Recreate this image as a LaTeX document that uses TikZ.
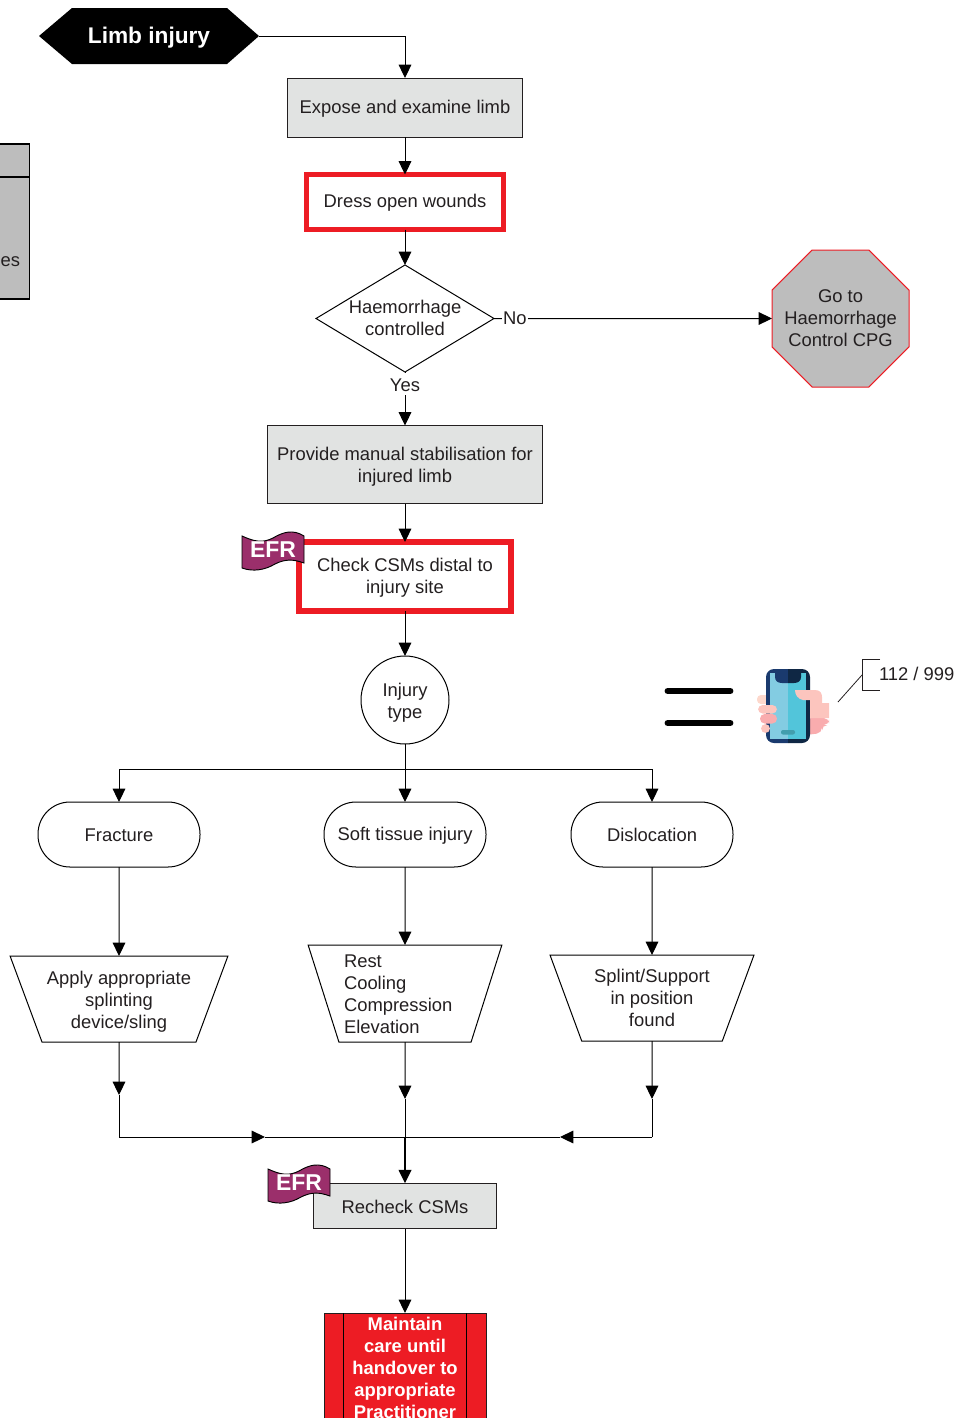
\documentclass[tikz,border=0pt]{standalone}
\usepackage{fontspec}
\setmainfont{Liberation Sans}
\usetikzlibrary{arrows.meta,shapes.geometric}
\definecolor{ink}{HTML}{231F20}
\definecolor{boxgray}{HTML}{E1E3E2}
\definecolor{midgray}{HTML}{BDBDBD}
\definecolor{redbox}{HTML}{ED1C24}
\definecolor{efrpurple}{HTML}{9B2F6B}
\definecolor{navyL}{HTML}{1A3A6E}
\definecolor{navyR}{HTML}{0F2744}
\definecolor{screenL}{HTML}{83CCE2}
\definecolor{screenR}{HTML}{52C5DA}
\definecolor{skinA}{HTML}{FCC5BE}
\definecolor{skinB}{HTML}{F9ACAE}
\definecolor{skinC}{HTML}{FDD8CC}
\newcommand{\pxu}{0.75pt}
\tikzset{
  x=0.75pt,y=-0.75pt,
  base/.style={font=\fontsize{13.8}{16.5}\selectfont,text=ink,align=center,inner sep=0pt,outer sep=0pt,
    execute at begin node={\rule{0pt}{11.5pt}},execute at end node={\rule[-0.9pt]{0pt}{0.9pt}}},
  toprule/.style={execute at begin node={\rule{0pt}{#1}}},
  lineblack/.style={draw=black,line width=0.75pt},
  arr/.style={lineblack,-{Triangle[length=10pt,width=9.5pt]}},
  graybox/.style={base,rectangle,draw=ink,line width=0.75pt,fill=boxgray},
  redframe/.style={base,rectangle,draw=redbox,fill=white},
  term/.style={base,rectangle,draw=black,line width=0.75pt,rounded corners=24pt,minimum height=65*\pxu,minimum width=162*\pxu},
  trap/.style={base,trapezium,draw=black,line width=0.75pt,shape border rotate=180,trapezium stretches=true,trapezium left angle=71,trapezium right angle=71},
  lab/.style={base,fill=white,inner xsep=1pt,inner ysep=2pt},
  efrtext/.style={font=\bfseries\fontsize{17.2}{19}\selectfont,text=white,inner sep=0pt},
  pics/efr/.style={code={
    \path[fill=efrpurple,draw=black,line width=0.7pt]
      (-31,-13) .. controls (-18,-7) and (-10,-6) .. (0,-11)
      .. controls (10,-17) and (20,-20) .. (31,-13)
      -- (31,14) .. controls (20,10) and (12,10) .. (2,15)
      .. controls (-8,21) and (-20,23) .. (-31,19) -- cycle;
    \node[efrtext] at (0,1) {EFR};
  }}
}
\begin{document}
\begin{tikzpicture}
\useasboundingbox (0,0) rectangle (960,1418);
\clip (0,0) rectangle (960,1418);

% left clipped box
\draw[fill=midgray,draw=black,line width=1pt] (-100,144) rectangle (29.5,299);
\draw[black,line width=1pt] (-100,177) -- (29.5,177);
\node[base,anchor=east] (leftes) at (20,259) {es};

% start
\path[fill=black] (39,36) -- (72,8) -- (227,8) -- (259,36) -- (227,64) -- (72,64) -- cycle;
\node[font=\bfseries\fontsize{17}{20}\selectfont,text=white,text height=12.5pt,text depth=1pt,minimum width=220*\pxu,minimum height=56*\pxu,inner sep=0pt,outer sep=0pt] (limb) at (149,36) {Limb injury};

% process
\node[graybox,minimum width=235*\pxu,minimum height=59*\pxu] (expose) at (405,107.5) {Expose and examine limb};
\node[redframe,line width=3.9pt,minimum width=197*\pxu,minimum height=55*\pxu] (dress) at (405,202) {Dress open wounds};
\node[base,diamond,draw=black,line width=0.75pt,minimum width=178*\pxu,minimum height=107*\pxu,aspect=1.66] (hem) at (405,318.5) {Haemorrhage\\controlled};
\node[base,regular polygon,regular polygon sides=8,draw=redbox,line width=0.75pt,fill=midgray,minimum size=148.3*\pxu] (cpg) at (840.5,318.5) {};
\node[base] (cpgtext) at (840.5,318.5) {Go to\\Haemorrhage\\Control CPG};
\node[graybox,minimum width=275*\pxu,minimum height=78*\pxu] (provide) at (405,464.5) {\rule{0pt}{13pt}Provide manual stabilisation for\\injured limb};
\node[redframe,line width=4.5pt,minimum width=212*\pxu,minimum height=69*\pxu] (check) at (405,576.5) {\rule{0pt}{11.5pt}Check CSMs distal to\\injury site};
\node[base,circle,draw=black,line width=0.75pt,minimum size=88*\pxu] (injury) at (405,700) {\rule{0pt}{14.5pt}Injury\\type};

\node[term] (fracture) at (119,834.5) {Fracture};
\node[term] (soft) at (405,834.5) {Soft tissue injury};
\node[term] (disl) at (652,834.5) {Dislocation};

\node[trap,minimum width=218*\pxu,minimum height=86*\pxu,trapezium left angle=66,trapezium right angle=66] (apply) at (119,999) {\rule{0pt}{14.5pt}Apply appropriate\\splinting\\device/sling};
\node[trap,minimum width=194*\pxu,minimum height=97*\pxu,text width=122*\pxu,align=left] (rest) at (405,993.5) {Rest\\Cooling\\Compression\\Elevation};
\node[trap,minimum width=204*\pxu,minimum height=86*\pxu,trapezium left angle=66,trapezium right angle=66] (splint) at (652,998) {Splint/Support\\in position\\found};

\node[graybox,toprule=10.4pt,minimum width=183*\pxu,minimum height=45.5*\pxu] (recheck) at (405,1206) {Recheck CSMs};

% final red box, running off the page
\node[base,rectangle,draw=ink,line width=0.75pt,fill=redbox,minimum width=162*\pxu,minimum height=147*\pxu,anchor=north] (maintain) at (405,1313) {};
\draw[black,line width=0.75pt] (343,1313) -- (343,1460);
\draw[black,line width=0.75pt] (466,1313) -- (466,1460);
\node[base,anchor=north,text=white,font=\bfseries\fontsize{13.8}{16.5}\selectfont] (maintaintext) at (405,1317) {Maintain\\care until\\handover to\\appropriate\\Practitioner};

% connectors
\coordinate (mL) at (119,1095);
\coordinate (mC) at (405,1099);
\coordinate (mR) at (652,1099);
\coordinate (cL) at (119,1137);
\coordinate (cR) at (652,1137);
\coordinate (hL) at (265,1137);
\coordinate (hR) at (560,1137);
\coordinate (split) at (405,769);
\coordinate (mid) at (405,1137);

\draw[arr] (limb.east) -| (expose.north);
\draw[arr] (expose.south) -- (dress.north);
\draw[arr] (dress.south) -- (hem.north);
\draw[arr] (hem.east) -- node[lab,pos=0.075,yshift=1pt] (no) {No} (cpg.west);
\draw[arr] (hem.south) -- node[lab,pos=0.226] (yes) {Yes} (provide.north);
\draw[arr] (provide.south) -- (check.north);
\draw[arr] (check.south) -- (injury.north);
\draw[arr] (injury.south) -- (soft.north);
\draw[arr] (split) -| (fracture.north);
\draw[arr] (split) -| (disl.north);
\draw[arr] (fracture.south) -- (apply.north);
\draw[arr] (soft.south) -- (rest.north);
\draw[arr] (disl.south) -- (splint.north);
\draw[arr] (apply.south) -- (mL);
\draw[arr] (rest.south) -- (mC);
\draw[arr] (splint.south) -- (mR);
\draw[lineblack] (mL) -- (cL);
\draw[arr] (cL) -- (hL);
\draw[lineblack] (mR) -- (cR);
\draw[arr] (cR) -- (hR);
\draw[lineblack] (hL) -- (hR);
\draw[lineblack] (mC) -- (mid);
\draw[arr,line width=1.1pt] (mid) -- (recheck.north);
\draw[arr] (recheck.south) -- (maintain.north);

% EFR flags
\pic at (273,549) {efr};
\pic at (299,1182) {efr};

% equals
\draw[black,line width=5.2pt,line cap=round] (668,691) -- (730,691);
\draw[black,line width=5.2pt,line cap=round] (668,723) -- (730,723);

% phone: hand behind
\fill[skinC,rounded corners=3pt] (757,695) rectangle (770,704);
\fill[skinB,rounded corners=4pt] (806,718) -- (829,718) -- (829,725) -- (822,725) -- (822,733) -- (806,735) -- cycle;
% phone body
\begin{scope}
  \clip (760,660) rectangle (788,750);
  \fill[navyL,rounded corners=6pt] (766,669) rectangle (810,743);
\end{scope}
\begin{scope}
  \clip (788,660) rectangle (815,750);
  \fill[navyR,rounded corners=6pt] (766,669) rectangle (810,743);
\end{scope}
\fill[screenL] (770,673) rectangle (788,739);
\fill[screenR] (788,673) rectangle (806,739);
\fill[navyL] (775,672) -- (775,677) .. controls (775,681) and (778,683) .. (782,683) -- (788,683) -- (788,672) -- cycle;
\fill[navyR] (801,672) -- (801,677) .. controls (801,681) and (798,683) .. (794,683) -- (788,683) -- (788,672) -- cycle;
\fill[screenR!80!black,rounded corners=1.5pt] (781,730) rectangle (795,734.5);
% hand front
\fill[skinA] (795,690) -- (815,690) .. controls (820,690) and (822,693) .. (822,697) -- (822,703) -- (829,703) -- (829,718) -- (810,718) -- (810,700) -- (803,700) .. controls (798,699) and (795,695) .. (795,690) -- cycle;
\fill[skinA,rounded corners=3.5pt] (758,705) rectangle (777,713.5);
\fill[skinB,rounded corners=3.5pt] (760,714) rectangle (777,723.5);
\fill[skinA,rounded corners=3.5pt] (761,724) rectangle (770,733);

% annotation
\coordinate (annA) at (838,702);
\coordinate (annB) at (862,675);
\draw[ink,line width=0.6pt] (annA) -- (annB);
\draw[ink,line width=0.75pt] (880,659) -- (862,659) -- (862,690.5) -- (880,690.5);
\node[base,anchor=west] (num) at (879,673.5) {112 / 999};
\end{tikzpicture}
\end{document}
